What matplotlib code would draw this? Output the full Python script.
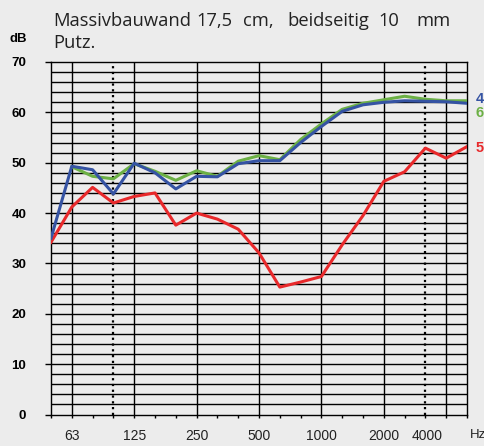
import numpy as np
import matplotlib.pyplot as plt

# third-octave bands 50 Hz .. 5000 Hz, plotted by band index
bands = [50, 63, 80, 100, 125, 160, 200, 250, 315, 400, 500,
         630, 800, 1000, 1250, 1600, 2000, 2500, 3150, 4000, 5000]
oct_labels = ['63', '125', '250', '500', '1000', '2000', '4000']
oct_idx = [1, 4, 7, 10, 13, 16, 19]
dotted_idx = [3, 18]

curve4 = [35.0, 49.3, 48.6, 43.8, 49.9, 48.0, 44.8, 47.3, 47.2, 49.8, 50.4,
          50.4, 54.0, 57.2, 60.2, 61.5, 62.0, 62.3, 62.2, 62.1, 61.8]
curve6 = [np.nan, 49.2, 47.3, 46.8, 49.8, 48.3, 46.5, 48.4, 47.3, 50.3, 51.4,
          50.6, 54.6, 57.7, 60.6, 61.8, 62.5, 63.2, 62.6, 62.3, 62.3]
curve5 = [34.2, 41.2, 45.1, 42.0, 43.3, 44.0, 37.6, 40.0, 38.8, 36.8, 32.1,
          25.3, 26.3, 27.4, 33.7, 39.5, 46.3, 48.2, 52.9, 50.9, 53.2]

BG = '#ececec'
BLUE = '#3553a3'
GREEN = '#6cb045'
RED = '#e8292b'

fig = plt.figure(figsize=(4.85, 4.46), dpi=100, facecolor=BG)
ax = fig.add_axes([51/485, 31.5/446, 416/485, 352.5/446], facecolor=BG)

x = np.arange(len(bands))
ax.set_xlim(0, len(bands) - 1)
ax.set_ylim(0, 70)

# grid: horizontal every 2 dB
for v in range(2, 70, 2):
    ax.axhline(v, color='black', lw=1.0, zorder=1)
for i in oct_idx:
    ax.axvline(i, color='black', lw=1.0, zorder=1)
for i in dotted_idx:
    ax.axvline(i, color='black', lw=1.6, ls=(0, (1, 1.6)), zorder=1)

ax.plot(x, curve5, color=RED, lw=2.2, zorder=3)
ax.plot(x, curve6, color=GREEN, lw=2.2, zorder=3)
ax.plot(x, curve4, color=BLUE, lw=2.2, zorder=4)

for s in ax.spines.values():
    s.set_color('black')
    s.set_linewidth(1.0)

ax.set_yticks(range(0, 71, 10))
ax.set_yticklabels([str(v) for v in range(0, 71, 10)], fontweight='bold',
                   fontsize=9.5, family='Liberation Sans')
ax.tick_params(axis='y', length=4.3, width=1.0, pad=13.5, direction='out')
ax.set_xticks(x)
ax.set_xticklabels([''] * len(x))
ax.tick_params(axis='x', length=2.5, width=1.0, direction='out')

for i, lab in zip(oct_idx, oct_labels):
    xi = i - 0.9 if lab == '4000' else i   # 4000 sits left of its line
    ax.text(xi, -2.8, lab, ha='center', va='top', fontsize=10,
            family='Liberation Sans', color='#222222')
ax.text(20.12, -2.8, 'Hz', ha='left', va='top', fontsize=9.5,
        family='Liberation Sans', color='#222222', clip_on=False)

fig.text(10/485, 1 - 39/446, 'dB', ha='left', va='center', fontsize=9.5,
         fontweight='bold', family='Liberation Sans')

# series labels on the right
ax.text(20.4, 63.0, '4', color=BLUE, fontsize=10.5, fontweight='bold',
        family='Liberation Sans', va='center_baseline', clip_on=False)
ax.text(20.4, 60.2, '6', color=GREEN, fontsize=10.5, fontweight='bold',
        family='Liberation Sans', va='center_baseline', clip_on=False)
ax.text(20.4, 53.2, '5', color=RED, fontsize=10.5, fontweight='bold',
        family='Liberation Sans', va='center_baseline', clip_on=False)

# justified title, words placed by their centres
words = ['Massivbauwand', '17,5', 'cm,', 'beidseitig', '10', 'mm']
xs = [122.5, 214.5, 258, 328, 388.5, 433]
for w, px in zip(words, xs):
    fig.text(px/485, 1 - 26.5/446, w, ha='center', va='baseline', fontsize=13.2,
             family='Open Sans', color='#222222')
fig.text(53/485, 1 - 48.5/446, 'Putz.', ha='left', va='baseline', fontsize=13.2,
         family='Open Sans', color='#222222')

fig.savefig('out.png', dpi=100, facecolor=BG)
